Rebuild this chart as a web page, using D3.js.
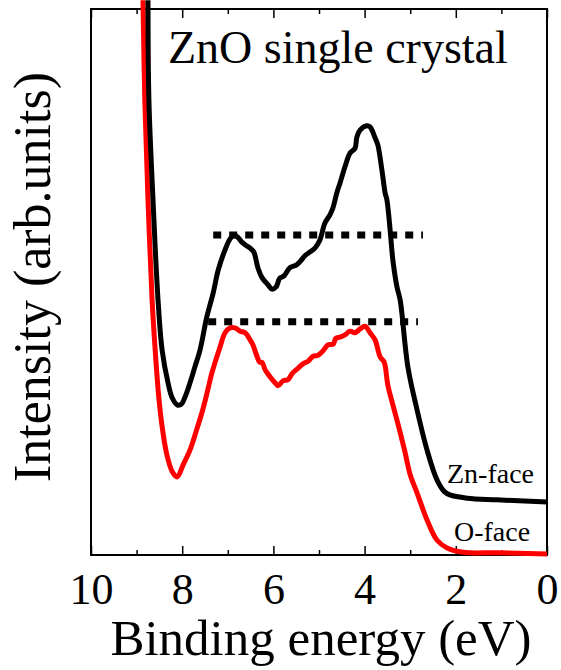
<!DOCTYPE html>
<html>
<head>
<meta charset="utf-8">
<script src="https://cdn.jsdelivr.net/npm/d3@7/dist/d3.min.js"></script>
<style>
  html, body { margin: 0; padding: 0; background: #fff; }
</style>
</head>
<body>
<svg id="chart" width="561" height="670"></svg>
<script>
// Valence-band spectra, binding energy (eV) vs intensity (arb. units)
const znFaceEnergy = [8.75, 8.73, 8.64, 8.53, 8.44, 8.31, 8.22, 8.11, 8.02, 7.94, 7.83, 7.72, 7.61, 7.46, 7.32, 7.21, 7.06, 6.95, 6.86, 6.78, 6.69, 6.58, 6.51, 6.43, 6.34, 6.25, 6.12, 6.03, 5.94, 5.86, 5.77, 5.64, 5.50, 5.42, 5.31, 5.20, 5.09, 4.98, 4.87, 4.76, 4.69, 4.61, 4.54, 4.43, 4.32, 4.21, 4.17, 4.10, 3.95, 3.88, 3.77, 3.71, 3.62, 3.55, 3.51, 3.44, 3.38, 3.29, 3.22, 3.05, 2.85, 2.63, 2.41, 2.25, 2.13, 1.75, 1.10, 0.00];
const znFaceIntensity = [101.6, 83.3, 65.0, 46.7, 37.5, 31.5, 28.8, 27.5, 27.6, 28.9, 31.5, 34.5, 37.5, 43.6, 48.0, 52.2, 55.9, 57.9, 58.6, 58.2, 57.3, 56.6, 56.2, 55.5, 52.6, 50.8, 49.5, 48.7, 49.1, 50.7, 51.1, 52.6, 53.1, 53.7, 54.8, 55.5, 56.2, 57.7, 60.8, 62.3, 63.7, 66.3, 68.1, 71.1, 73.6, 74.5, 76.5, 77.8, 78.6, 78.4, 76.4, 75.1, 70.5, 66.3, 65.0, 59.5, 54.0, 49.1, 46.7, 34.4, 26.6, 19.2, 13.7, 11.6, 11.0, 10.4, 10.1, 9.7];

const oFaceEnergy = [8.86, 8.82, 8.75, 8.66, 8.60, 8.52, 8.44, 8.34, 8.22, 8.11, 7.98, 7.83, 7.70, 7.57, 7.46, 7.35, 7.17, 7.06, 6.95, 6.84, 6.73, 6.62, 6.51, 6.45, 6.36, 6.30, 6.25, 6.18, 6.07, 5.96, 5.90, 5.79, 5.68, 5.59, 5.46, 5.35, 5.24, 5.13, 5.02, 4.91, 4.80, 4.69, 4.63, 4.54, 4.43, 4.32, 4.21, 4.10, 3.99, 3.88, 3.77, 3.66, 3.57, 3.49, 3.38, 3.29, 3.18, 3.11, 3.00, 2.85, 2.63, 2.41, 2.19, 1.84, 1.10, 0.00];
const oFaceIntensity = [101.6, 83.3, 65.0, 46.7, 38.5, 29.5, 23.5, 18.5, 15.3, 14.3, 16.5, 19.2, 22.5, 26.0, 29.5, 33.3, 38.1, 40.7, 41.6, 41.6, 41.0, 40.7, 39.4, 38.5, 36.4, 35.3, 35.3, 33.9, 32.6, 31.5, 31.0, 31.9, 32.1, 33.2, 34.2, 35.0, 35.5, 36.4, 36.6, 37.4, 38.5, 38.6, 39.7, 39.9, 40.3, 41.0, 40.7, 41.4, 41.9, 40.7, 39.4, 36.3, 35.3, 31.1, 27.5, 24.7, 21.1, 18.7, 14.7, 11.4, 6.4, 2.7, 1.3, 0.5, 0.4, 0.2];

// Dotted guide lines at the two peak heights: [start energy, end energy, level]
const guideZn = [7.32, 2.72, 58.6];
const guideO = [7.43, 2.83, 42.7];

const majorTicks = [10, 8, 6, 4, 2, 0];
const minorTicks = [9, 7, 5, 3, 1];

const titleText = "ZnO single crystal";
const xTitle = "Binding energy (eV)";
const yTitle = "Intensity (arb.units)";
const seriesLabels = ["Zn-face", "O-face"];

const serif = "'Liberation Serif', 'Times New Roman', serif";

const svg = d3.select("#chart");
const plotLeft = 91, plotRight = 547, plotTop = 9, plotBottom = 555;

const x = d3.scaleLinear().domain([10, 0]).range([plotLeft, plotRight]);
const y = d3.scaleLinear().domain([0, 100]).range([plotBottom, plotTop]);

// Frame
svg.append("rect")
  .attr("x", plotLeft).attr("y", plotTop)
  .attr("width", plotRight - plotLeft).attr("height", plotBottom - plotTop)
  .attr("fill", "none").attr("stroke", "#000").attr("stroke-width", 2);

// Bottom axis with inward ticks
const gBottom = svg.append("g").attr("transform", `translate(0,${plotBottom})`);
gBottom.call(d3.axisBottom(x).tickValues(majorTicks).tickSize(-9).tickFormat(d3.format("d")));
gBottom.append("g").call(d3.axisBottom(x).tickValues(minorTicks).tickSize(-5).tickFormat(""));
gBottom.selectAll(".domain").remove();
gBottom.selectAll("line").attr("stroke", "#000").attr("stroke-width", 1.5);
gBottom.selectAll("text").filter(function () { return this.textContent === ""; }).remove();
gBottom.selectAll("text")
  .attr("y", 49).attr("dy", 0)
  .attr("fill", "#000")
  .style("font-family", serif)
  .style("font-size", "44px");

// Top axis, ticks only
const gTop = svg.append("g").attr("transform", `translate(0,${plotTop})`);
gTop.call(d3.axisTop(x).tickValues(majorTicks).tickSize(-9).tickFormat(""));
gTop.append("g").call(d3.axisTop(x).tickValues(minorTicks).tickSize(-5).tickFormat(""));
gTop.selectAll(".domain").remove();
gTop.selectAll("text").remove();
gTop.selectAll("line").attr("stroke", "#000").attr("stroke-width", 1.5);

// Spectra
const line = d3.line()
  .x(d => x(d[0]))
  .y(d => y(d[1]))
  .curve(d3.curveCatmullRom.alpha(0.5));

const oFace = oFaceEnergy.map((e, i) => [e, oFaceIntensity[i]]);
const znFace = znFaceEnergy.map((e, i) => [e, znFaceIntensity[i]]);

svg.append("path").datum(oFace)
  .attr("d", line)
  .attr("fill", "none").attr("stroke", "#ff0000")
  .attr("stroke-width", 5).attr("stroke-linejoin", "round");

svg.append("path").datum(znFace)
  .attr("d", line)
  .attr("fill", "none").attr("stroke", "#000")
  .attr("stroke-width", 5).attr("stroke-linejoin", "round");

// Dotted guide lines
[guideZn, guideO].forEach(g => {
  svg.append("line")
    .attr("x1", x(g[0])).attr("x2", x(g[1]))
    .attr("y1", y(g[2])).attr("y2", y(g[2]))
    .attr("stroke", "#000").attr("stroke-width", 7)
    .attr("stroke-dasharray", "8,8");
});

// Texts
function addText(txt, size) {
  return svg.append("text")
    .style("font-family", serif)
    .style("font-size", size + "px")
    .attr("fill", "#000")
    .text(txt);
}

addText(titleText, 46).attr("x", 168).attr("y", 63);

addText(xTitle, 51)
  .attr("x", (plotLeft + plotRight) / 2 + 2).attr("y", 655)
  .attr("text-anchor", "middle");

addText(yTitle, 52)
  .attr("transform", "translate(50,277) rotate(-90)")
  .attr("text-anchor", "middle");

addText(seriesLabels[0], 28).attr("x", 447).attr("y", 483);
addText(seriesLabels[1], 28).attr("x", 454).attr("y", 541);
</script>
</body>
</html>
